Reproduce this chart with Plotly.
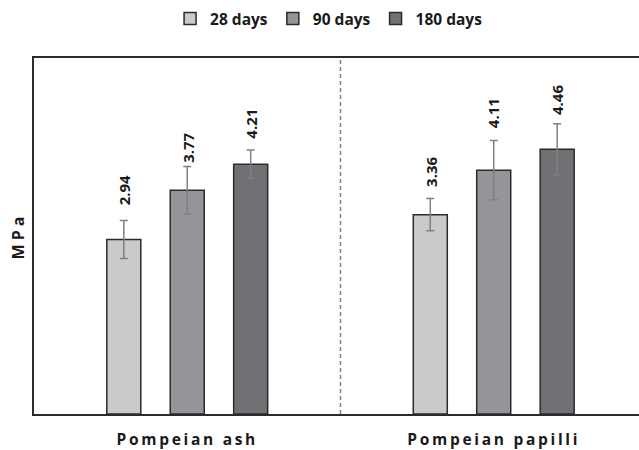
import plotly.graph_objects as go

# Compressive strength (MPa) by curing age
categories = ["Pompeian ash", "Pompeian papilli"]
series_names = ["28 days", "90 days", "180 days"]
values = {
    "28 days": [2.94, 3.36],
    "90 days": [3.77, 4.11],
    "180 days": [4.21, 4.46],
}
errors = {
    "28 days": [0.32, 0.27],
    "90 days": [0.40, 0.50],
    "180 days": [0.24, 0.43],
}

colors = {"28 days": "#c9cacc", "90 days": "#949598", "180 days": "#707174"}
label_gap_px = {"28 days": [14, 11], "90 days": [3, 11], "180 days": [10, 8]}

FONT = "Open Sans"
x_pos = list(range(len(categories)))
slot = 0.207  # horizontal offset between neighbouring bars inside a group

fig = go.Figure()
for name in series_names:
    fig.add_trace(go.Bar(
        name=name,
        x=x_pos,
        y=values[name],
        marker=dict(color=colors[name], line=dict(color="#2b2b2b", width=1.5)),
        error_y=dict(type="data", array=errors[name], color="#808080",
                     thickness=1.5, width=4),
    ))

# value labels, rotated, above each error bar
annotations = []
for i, name in enumerate(series_names):
    for j, v in enumerate(values[name]):
        annotations.append(dict(
            x=x_pos[j] + (i - 1) * slot, y=v + errors[name][j],
            xref="x", yref="y", text=f"{v:.2f}", showarrow=False,
            textangle=-90, xanchor="center", yanchor="bottom",
            yshift=label_gap_px[name][j], borderpad=0,
            font=dict(family=FONT, size=15, color="#1a1a1a", weight="bold"),
        ))

fig.update_layout(
    width=639, height=450,
    margin=dict(l=34, r=0, t=58, b=36, autoexpand=False),
    paper_bgcolor="white", plot_bgcolor="white",
    barmode="group", bargap=0.379, bargroupgap=0.464,
    showlegend=True,
    legend=dict(orientation="h", xref="container", yref="container",
                x=0.515, y=0.958, xanchor="center", yanchor="middle",
                font=dict(family=FONT, size=15.5, color="#1a1a1a", weight="bold"),
                itemwidth=30, bgcolor="rgba(0,0,0,0)"),
    annotations=annotations,
    shapes=[dict(type="line", xref="x", yref="paper", x0=0.5, x1=0.5, y0=0, y1=1,
                 line=dict(color="#808080", width=1.5, dash="4px,3px"))],
    font=dict(family=FONT),
)
fig.update_xaxes(
    range=[-0.5, 1.474], tickvals=x_pos, ticktext=categories, automargin=False,
    showline=True, mirror=True, linecolor="#2b2b2b", linewidth=2,
    ticks="", showgrid=False, zeroline=False, ticklabelstandoff=10,
    tickfont=dict(family=FONT, size=15.5, color="#1a1a1a", weight="bold"),
)
fig.update_yaxes(
    range=[0, 6], showticklabels=False, ticks="", showgrid=False, zeroline=False,
    showline=True, linecolor="#2b2b2b", linewidth=2, automargin=False,
    title=dict(text="MPa", standoff=3,
               font=dict(family=FONT, size=16, color="#1a1a1a", weight="bold")),
)

post = """
var gd = document.getElementById('{plot_id}');
gd.querySelectorAll('.xtick text').forEach(function (t) {
  t.style.letterSpacing = '2.7px';
});
gd.querySelectorAll('.ytitle').forEach(function (t) {
  t.style.letterSpacing = '4px';
});
"""
fig.write_html("out.html", post_script=post)
